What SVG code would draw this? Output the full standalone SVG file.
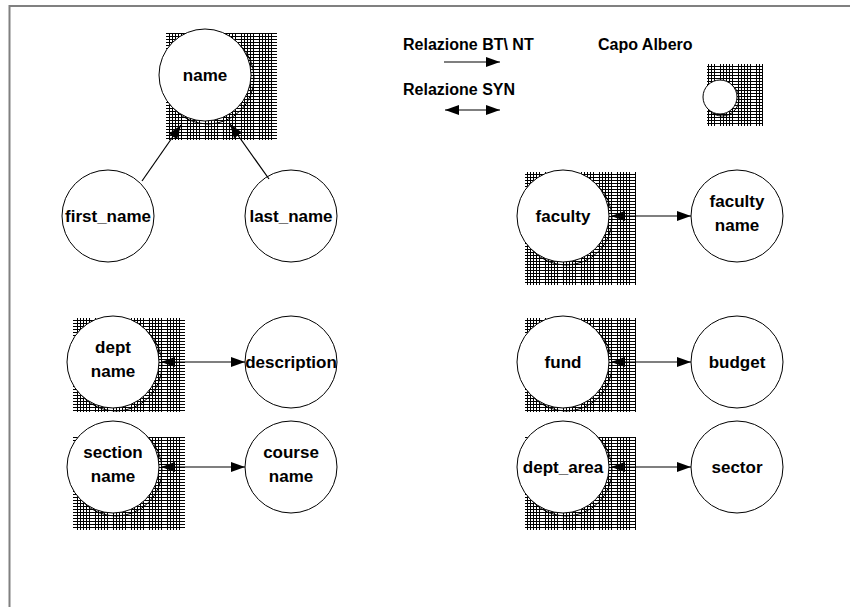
<svg xmlns="http://www.w3.org/2000/svg" width="850" height="607" viewBox="0 0 850 607">
  <style>
    .frame { stroke: #808080; stroke-width: 2; fill: none; }
    .hatch { fill: url(#grid); }
    .shadow { fill: none; stroke: #000; stroke-width: 1; }
    .node { fill: #fff; stroke: #000; stroke-width: 1; }
    .label { font-family: "Liberation Sans", Arial, sans-serif; font-weight: bold; font-size: 17px; fill: #000; text-anchor: middle; }
    .legend { font-family: "Liberation Sans", Arial, sans-serif; font-weight: bold; font-size: 16px; fill: #000; }
    .edge { stroke: #000; stroke-width: 1.2; fill: none; }
    .bt { marker-end: url(#tip); }
    .syn { marker-start: url(#tip); marker-end: url(#tip); }
  </style>
  <defs>
    <!-- fine square grid used behind tree heads; one column in six is left open -->
    <pattern id="grid" width="18" height="3" patternUnits="userSpaceOnUse">
      <rect width="18" height="3" fill="#fff"/>
      <path d="M0 0.5H18M0.5 0V3M3.5 0V3M6.5 0V3M9.5 0V3M12.5 0V3" stroke="#000" stroke-width="1"/>
    </pattern>
    <marker id="tip" markerWidth="14" markerHeight="10" refX="14" refY="5" orient="auto-start-reverse" markerUnits="userSpaceOnUse">
      <path d="M0 0L14 5L0 10Z" fill="#000"/>
    </marker>
  </defs>

  <rect width="850" height="607" fill="#fff"/>
  <path class="frame" d="M9.5 607V6H850"/>

  <!-- legend -->
  <g id="legend">
    <text class="legend" x="403" y="50">Relazione BT\ NT</text>
    <line class="edge bt" x1="444" y1="62" x2="500" y2="62"/>
    <text class="legend" x="403" y="95">Relazione SYN</text>
    <line class="edge syn" x1="445" y1="110" x2="500" y2="110"/>
    <text class="legend" x="598" y="50">Capo Albero</text>
    <rect class="hatch" x="707" y="64" width="56" height="62"/>
    <circle class="shadow" cx="722" cy="99" r="17"/>
    <circle class="node" cx="720" cy="97" r="17"/>
  </g>

  <!-- tree heads (hatched) -->
  <g id="n-name" transform="translate(205,75)">
    <rect class="hatch" x="-39" y="-42" width="111" height="107"/>
    <circle class="shadow" cx="3" cy="3" r="46"/>
    <circle class="node" r="46"/>
    <text class="label" y="6">name</text>
  </g>
  <g id="n-dept-name" transform="translate(113,362)">
    <rect class="hatch" x="-40" y="-44" width="112" height="94"/>
    <circle class="shadow" cx="3" cy="3" r="46"/>
    <circle class="node" r="46"/>
    <text class="label" y="-9">dept</text>
    <text class="label" y="15">name</text>
  </g>
  <g id="n-section-name" transform="translate(113,467)">
    <rect class="hatch" x="-40" y="-30" width="112" height="93"/>
    <circle class="shadow" cx="3" cy="3" r="46"/>
    <circle class="node" r="46"/>
    <text class="label" y="-9">section</text>
    <text class="label" y="15">name</text>
  </g>
  <g id="n-faculty" transform="translate(563,216)">
    <rect class="hatch" x="-38" y="-44" width="111" height="113"/>
    <circle class="shadow" cx="3" cy="3" r="46"/>
    <circle class="node" r="46"/>
    <text class="label" y="6">faculty</text>
  </g>
  <g id="n-fund" transform="translate(563,362)">
    <rect class="hatch" x="-38" y="-44" width="111" height="94"/>
    <circle class="shadow" cx="3" cy="3" r="46"/>
    <circle class="node" r="46"/>
    <text class="label" y="6">fund</text>
  </g>
  <g id="n-dept-area" transform="translate(563,467)">
    <rect class="hatch" x="-38" y="-30" width="111" height="93"/>
    <circle class="shadow" cx="3" cy="3" r="46"/>
    <circle class="node" r="46"/>
    <text class="label" y="6">dept_area</text>
  </g>

  <!-- plain terms -->
  <g id="n-first-name" transform="translate(108,216)">
    <circle class="node" r="46"/>
    <text class="label" y="6">first_name</text>
  </g>
  <g id="n-last-name" transform="translate(291,216)">
    <circle class="node" r="46"/>
    <text class="label" y="6">last_name</text>
  </g>
  <g id="n-description" transform="translate(291,362)">
    <circle class="node" r="46"/>
    <text class="label" y="6">description</text>
  </g>
  <g id="n-course-name" transform="translate(291,467)">
    <circle class="node" r="46"/>
    <text class="label" y="-9">course</text>
    <text class="label" y="15">name</text>
  </g>
  <g id="n-faculty-name" transform="translate(737,216)">
    <circle class="node" r="46"/>
    <text class="label" y="-9">faculty</text>
    <text class="label" y="15">name</text>
  </g>
  <g id="n-budget" transform="translate(737,362)">
    <circle class="node" r="46"/>
    <text class="label" y="6">budget</text>
  </g>
  <g id="n-sector" transform="translate(737,467)">
    <circle class="node" r="46"/>
    <text class="label" y="6">sector</text>
  </g>

  <!-- connectors -->
  <g id="edges">
    <line class="edge bt" x1="142" y1="181" x2="181" y2="125"/>
    <line class="edge bt" x1="269" y1="179" x2="230" y2="124"/>
    <line class="edge syn" x1="161" y1="362" x2="245" y2="362"/>
    <line class="edge syn" x1="161" y1="467" x2="245" y2="467"/>
    <line class="edge syn" x1="611" y1="216" x2="691" y2="216"/>
    <line class="edge syn" x1="611" y1="362" x2="691" y2="362"/>
    <line class="edge syn" x1="611" y1="467" x2="691" y2="467"/>
  </g>
</svg>
